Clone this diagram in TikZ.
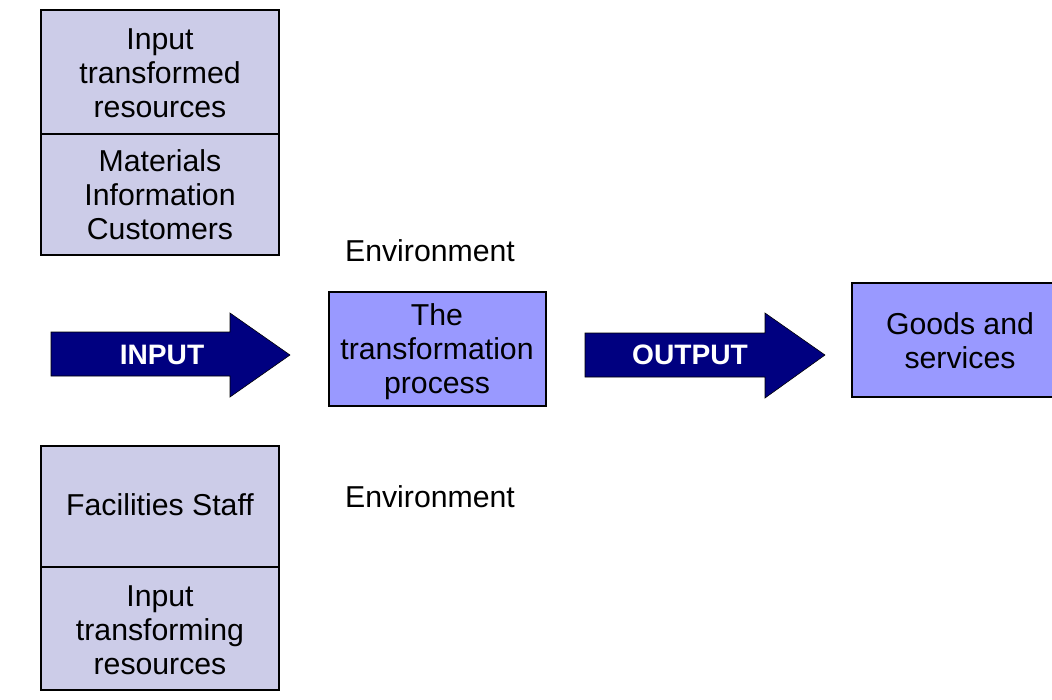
\documentclass[tikz,border=0pt]{standalone}
\usepackage{fontspec}
\setmainfont{Liberation Sans}
\usetikzlibrary{positioning}

\definecolor{lavbox}{RGB}{204,204,232}
\definecolor{procbox}{RGB}{153,153,255}
\definecolor{navyarrow}{RGB}{0,0,128}

\tikzset{
    boxtext/.style={align=center,font=\fontsize{21.5}{24.2}\selectfont,inner sep=0pt},
    arrowtext/.style={text=white,font=\bfseries\fontsize{20}{23}\selectfont,inner sep=0pt},
    boxline/.style={line width=1.2pt,draw=black}
}

\begin{document}
\begin{tikzpicture}[x=0.025cm,y=-0.025cm]
\useasboundingbox (0,0) rectangle (1052,699);
\clip (0,0) rectangle (1052,699);

% input boxes, left column
\fill[lavbox,boxline] (41,10) rectangle (279,255);
\draw[boxline] (41,134)--(279,134);
\node[boxtext] (transformed) at (160,73) {Input\\transformed\\resources};
\node[boxtext] (materials) at (160,195) {Materials\\Information\\Customers};

\fill[lavbox,boxline] (41,446) rectangle (279,690);
\draw[boxline] (41,567)--(279,567);
\node[boxtext] (facilities) at (160,505) {Facilities Staff};
\node[boxtext] (transforming) at (160,630) {Input\\transforming\\resources};

% the process and its result
\fill[procbox,boxline] (329,292) rectangle (546,406);
\node[boxtext] (process) at (437,352) {The\\transformation\\process};

\fill[procbox,boxline] (852,283) rectangle (1075,397);
\node[boxtext] (goods) at (960,341) {Goods and\\services};

\node[boxtext] (envtop) at (430,251) {Environment};
\node[boxtext] (envbot) at (430,497) {Environment};

% block arrows
\fill[navyarrow,draw=black,thin] (51,332)--(230,332)--(230,313)--(290,355)--(230,397)--(230,376)--(51,376)--cycle;
\node[arrowtext] (input) at (162,355) {INPUT};

\fill[navyarrow,draw=black,thin] (585,333)--(765,333)--(765,313)--(825,355)--(765,398)--(765,377)--(585,377)--cycle;
\node[arrowtext] (output) at (690,355) {OUTPUT};
\end{tikzpicture}
\end{document}
